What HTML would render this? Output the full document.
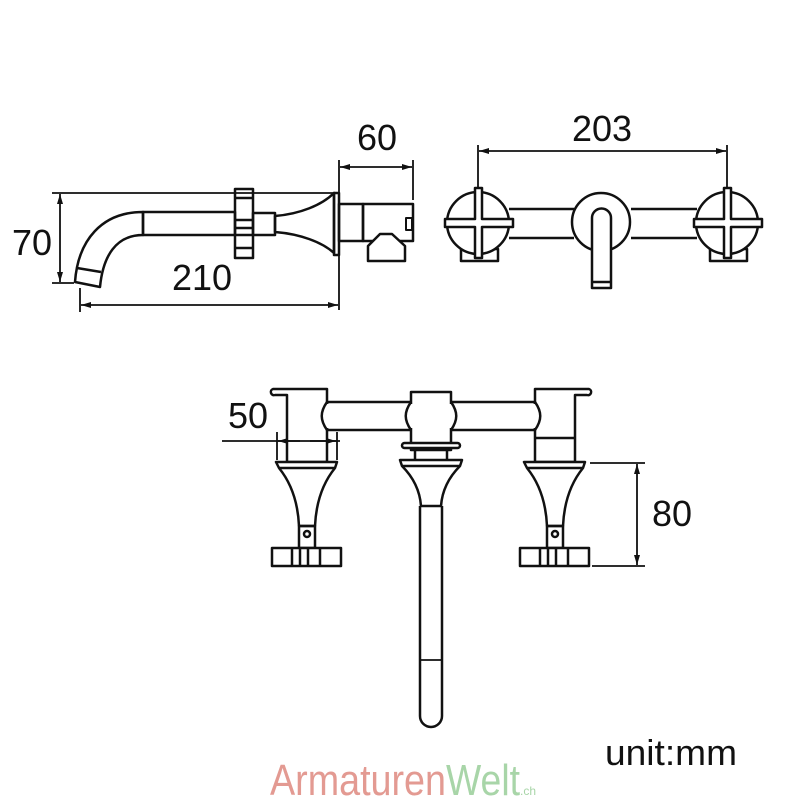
<!DOCTYPE html>
<html><head><meta charset="utf-8"><style>
html,body{margin:0;padding:0;background:#fff;}
svg{display:block;}
text{font-family:"Liberation Sans Narrow","Liberation Sans",sans-serif;fill:#111;}
</style></head><body>
<svg width="800" height="800" viewBox="0 0 800 800" xmlns="http://www.w3.org/2000/svg">
<defs>
<marker id="a" viewBox="0 0 10 6" refX="10" refY="3" markerWidth="10" markerHeight="6" orient="auto-start-reverse" markerUnits="userSpaceOnUse"><path d="M0,0 L10,3 L0,6 Z" fill="#111"/></marker>
</defs>
<g fill="none" stroke="#111" stroke-width="2.5" stroke-linejoin="round">
<!-- ===== Side view ===== -->
<line x1="52" y1="193" x2="336" y2="193" stroke-width="1.8"/>
<line x1="52" y1="283" x2="74" y2="283" stroke-width="1.8"/>
<line x1="60" y1="194" x2="60" y2="282" stroke-width="1.8" marker-start="url(#a)" marker-end="url(#a)"/>
<path d="M143,212 C102,212 78,240 75,282 L100,287 C103,256 116,235 143,235 Z"/>
<line x1="77" y1="268" x2="101" y2="272"/>
<rect x="143" y="212" width="92" height="23"/>
<rect x="235" y="189" width="18" height="69"/>
<line x1="235" y1="198" x2="253" y2="198"/>
<line x1="235" y1="220" x2="253" y2="220"/>
<line x1="235" y1="228" x2="253" y2="228"/>
<line x1="235" y1="235" x2="253" y2="235"/>
<line x1="235" y1="248" x2="253" y2="248"/>
<rect x="253" y="213" width="22" height="22"/>
<path d="M275,216 C300,214 322,205 334,193 L334,253 C322,242 300,234 275,232 Z"/>
<rect x="334" y="193" width="5" height="62"/>
<rect x="339" y="204" width="24" height="37"/>
<rect x="363" y="204" width="50" height="37"/>
<rect x="406" y="218" width="6" height="12" stroke-width="2"/>
<path d="M368,261 V246 L380,234 L392,234 L405,246 V261 Z" fill="#fff"/>
<line x1="339" y1="160" x2="339" y2="310" stroke-width="1.8"/>
<line x1="413" y1="160" x2="413" y2="200" stroke-width="1.8"/>
<line x1="340" y1="167" x2="412" y2="167" stroke-width="1.8" marker-start="url(#a)" marker-end="url(#a)"/>
<line x1="80" y1="288" x2="80" y2="312" stroke-width="1.8"/>
<line x1="81" y1="305" x2="338" y2="305" stroke-width="1.8" marker-start="url(#a)" marker-end="url(#a)"/>
<!-- ===== Front view ===== -->
<line x1="478" y1="145" x2="478" y2="190" stroke-width="1.8"/>
<line x1="727" y1="145" x2="727" y2="190" stroke-width="1.8"/>
<line x1="479" y1="151" x2="726" y2="151" stroke-width="1.8" marker-start="url(#a)" marker-end="url(#a)"/>
<line x1="509" y1="209" x2="574" y2="209"/><line x1="509" y1="238" x2="574" y2="238"/>
<line x1="631" y1="209" x2="697" y2="209"/><line x1="631" y1="238" x2="697" y2="238"/>
<g id="h1">
<rect x="461" y="249" width="37" height="12"/>
<circle cx="478" cy="223" r="31" fill="#fff"/>
<path d="M475,188 H482 V219 H513 V227 H482 V258 H475 V227 H445 V219 H475 Z" fill="#fff"/>
</g>
<use href="#h1" transform="translate(249,0)"/>
<circle cx="601" cy="222" r="29" fill="#fff"/>
<path d="M592,288 V218 A9.5,9.5 0 0 1 611,218 V288 Z" fill="#fff"/>
<line x1="592" y1="282" x2="611" y2="282"/>
<!-- ===== Top view ===== -->
<rect x="327" y="402" width="84" height="28"/>
<rect x="451" y="402" width="84" height="28"/>
<path d="M273,389 H327 V462 H287 V395 H275 A3,3 0 0 1 273,389 Z" fill="#fff"/>
<path d="M589,389 H535 V462 H575 V395 H587 A3,3 0 0 0 589,389 Z" fill="#fff"/>
<line x1="535" y1="438" x2="575" y2="438"/>
<rect x="411" y="392" width="40" height="58" fill="#fff"/>
<g stroke="#fff" stroke-width="4">
<line x1="327" y1="404" x2="327" y2="428"/><line x1="535" y1="404" x2="535" y2="428"/>
<line x1="411" y1="404" x2="411" y2="428"/><line x1="451" y1="404" x2="451" y2="428"/>
</g>
<path d="M327,402 C320,412 320,420 327,430 M535,402 C542,412 542,420 535,430"/>
<path d="M411,402 C404,412 404,420 411,430 M451,402 C458,412 458,420 451,430"/>
<rect x="402" y="443" width="58" height="5" rx="2.5" fill="#fff"/>
<line x1="415" y1="448" x2="415" y2="460"/><line x1="447" y1="448" x2="447" y2="460"/>
<!-- center flare & spout -->
<path d="M400,460 H462 L460,466 C448,478 442,492 441,506 H421 C420,492 414,478 402,466 Z" fill="#fff"/>
<line x1="402" y1="466" x2="460" y2="466"/>
<path d="M420,506 V716 A11,11 0 0 0 442,716 V506"/>
<line x1="420" y1="660" x2="442" y2="660" stroke-width="1.8"/>
<!-- side handles -->
<g id="sh">
<path d="M276,462 H337 L335,468 C322,484 316,504 315,526 H299 C298,504 292,484 279,468 Z" fill="#fff"/>
<line x1="279" y1="468" x2="335" y2="468"/>
<rect x="299" y="526" width="16" height="22"/>
<circle cx="307" cy="534" r="3"/>
<rect x="272" y="548" width="69" height="18" fill="#fff"/>
<line x1="292" y1="548" x2="292" y2="566"/><line x1="300" y1="548" x2="300" y2="566"/>
<line x1="308" y1="548" x2="308" y2="566"/><line x1="320" y1="548" x2="320" y2="566"/>
</g>
<use href="#sh" transform="translate(248,0)"/>
<!-- 50 dim -->
<line x1="277" y1="432" x2="277" y2="460" stroke-width="1.8"/>
<line x1="337" y1="432" x2="337" y2="460" stroke-width="1.8"/>
<line x1="222" y1="441" x2="340" y2="441" stroke-width="1.8"/>
<line x1="300" y1="441" x2="278" y2="441" stroke-width="1.8" marker-end="url(#a)"/>
<line x1="310" y1="441" x2="336" y2="441" stroke-width="1.8" marker-end="url(#a)"/>
<!-- 80 dim -->
<line x1="590" y1="463" x2="645" y2="463" stroke-width="1.8"/>
<line x1="592" y1="566" x2="645" y2="566" stroke-width="1.8"/>
<line x1="637" y1="464" x2="637" y2="565" stroke-width="1.8" marker-start="url(#a)" marker-end="url(#a)"/>
</g>
<text x="12" y="255" font-size="36">70</text>
<text x="357" y="150" font-size="36">60</text>
<text x="172" y="290" font-size="36">210</text>
<text x="572" y="141" font-size="36">203</text>
<text x="228" y="428" font-size="36">50</text>
<text x="652" y="526" font-size="36">80</text>
<text x="605" y="765" font-size="36" textLength="132" lengthAdjust="spacingAndGlyphs">unit:mm</text>
<text x="270" y="795" font-size="44" textLength="176" lengthAdjust="spacingAndGlyphs" style="fill:#e39a92">Armaturen</text>
<text x="446" y="795" font-size="44" textLength="74" lengthAdjust="spacingAndGlyphs" style="fill:#a8d5a8">Welt</text>
<text x="520" y="795" font-size="12" style="fill:#a8d5a8">.ch</text>
</svg>
</body></html>
